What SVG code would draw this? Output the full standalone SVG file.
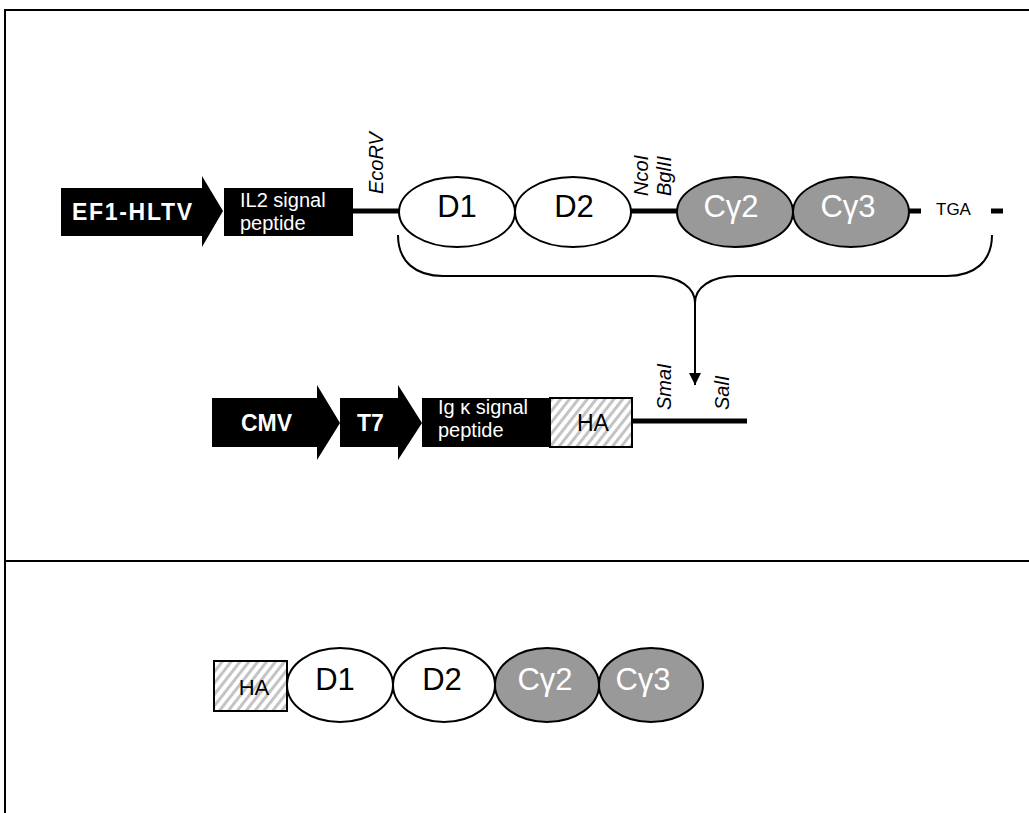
<svg xmlns="http://www.w3.org/2000/svg" width="1029" height="813" viewBox="0 0 1029 813">
  <style>
    .frame { stroke: #000; stroke-width: 2; fill: none; }
    .blk { fill: #000; }
    .dom { fill: #fff; stroke: #000; stroke-width: 2; }
    .cdom { fill: #999999; stroke: #000; stroke-width: 2; }
    .hatch { fill: url(#diag); stroke: #000; stroke-width: 2; }
    .wlab { font-family: "Liberation Sans", Arial, sans-serif; fill: #fff; }
    .bold { font-weight: bold; font-size: 23px; }
    .sig { font-size: 20px; }
    .dlab { font-family: "Liberation Sans", Arial, sans-serif; font-size: 31px; fill: #000; text-anchor: middle; }
    .clab { font-family: "Liberation Sans", Arial, sans-serif; font-size: 31px; fill: #fff; text-anchor: middle; }
    .site { font-family: "Liberation Sans", Arial, sans-serif; font-size: 20px; font-style: italic; fill: #000; }
    .dna { stroke: #000; stroke-width: 5; fill: none; }
    .brace { stroke: #000; stroke-width: 2; fill: none; }
  </style>
  <defs>
    <pattern id="diag" patternUnits="userSpaceOnUse" width="7" height="7" patternTransform="rotate(38)">
      <rect width="7" height="7" fill="#fff"/>
      <rect width="3" height="7" fill="#c4c4c4"/>
    </pattern>
    <marker id="head" markerUnits="userSpaceOnUse" markerWidth="12" markerHeight="14" refX="12" refY="6" orient="auto">
      <path d="M0,0 L12,6 L0,12 Z" fill="#000"/>
    </marker>
  </defs>

  <!-- panel frame -->
  <g id="frame">
    <line class="frame" x1="4" y1="10" x2="1029" y2="10"/>
    <line class="frame" x1="5" y1="9" x2="5" y2="813"/>
    <line class="frame" x1="4" y1="561" x2="1029" y2="561"/>
  </g>

  <!-- connectors: DNA segments, brace and insertion arrow -->
  <g id="connectors">
    <line class="dna" x1="353" y1="211" x2="399" y2="211"/>
    <line class="dna" x1="631" y1="211" x2="678" y2="211"/>
    <line class="dna" x1="909" y1="211" x2="921" y2="211"/>
    <line class="dna" x1="991" y1="211" x2="1003" y2="211"/>
    <line class="dna" x1="631" y1="421" x2="747" y2="421"/>
    <path class="brace" d="M398,235 C398,262 416,276 443,276 L653,276 C680,276 695,288 695,303"/>
    <path class="brace" d="M992,235 C992,262 974,276 947,276 L737,276 C710,276 695,288 695,303"/>
    <line class="brace" x1="695" y1="303" x2="695" y2="385" marker-end="url(#head)"/>
  </g>

  <!-- upper construct -->
  <g id="ef1-hltv">
    <polygon class="blk" points="61,188 202,188 202,176 223,211 202,247 202,236 61,236"/>
    <text class="wlab bold" x="72" y="220" textLength="120" lengthAdjust="spacing">EF1-HLTV</text>
  </g>
  <g id="il2-signal">
    <rect class="blk" x="224" y="188" width="129" height="48"/>
    <text class="wlab sig" x="240" y="207">IL2 signal</text>
    <text class="wlab sig" x="240" y="230">peptide</text>
  </g>
  <g id="ecorv">
    <text class="site" transform="translate(383,194) rotate(-90)">EcoRV</text>
  </g>
  <g id="d1-top">
    <ellipse class="dom" cx="457" cy="212" rx="58" ry="35"/>
    <text class="dlab" x="457" y="217">D1</text>
  </g>
  <g id="d2-top">
    <ellipse class="dom" cx="573" cy="212" rx="58" ry="35"/>
    <text class="dlab" x="574" y="217">D2</text>
  </g>
  <g id="nco-bgl">
    <text class="site" transform="translate(648,196) rotate(-90)">NcoI</text>
    <text class="site" transform="translate(671,196) rotate(-90)">BglII</text>
  </g>
  <g id="cg2-top">
    <ellipse class="cdom" cx="735" cy="212" rx="58" ry="35"/>
    <text class="clab" x="731" y="217">Cγ2</text>
  </g>
  <g id="cg3-top">
    <ellipse class="cdom" cx="851" cy="212" rx="58" ry="35"/>
    <text class="clab" x="848" y="217">Cγ3</text>
  </g>
  <g id="tga">
    <text x="936" y="215" font-family="Liberation Sans, Arial, sans-serif" font-size="17" fill="#000">TGA</text>
  </g>

  <!-- expression vector -->
  <g id="cmv">
    <polygon class="blk" points="212,398 317,398 317,385 340,423 317,460 317,447 212,447"/>
    <text class="wlab bold" x="241" y="431">CMV</text>
  </g>
  <g id="t7">
    <polygon class="blk" points="340,398 398,398 398,385 422,423 398,460 398,447 340,447"/>
    <text class="wlab bold" x="357" y="431">T7</text>
  </g>
  <g id="igk-signal">
    <rect class="blk" x="422" y="398" width="128" height="49"/>
    <text class="wlab sig" x="438" y="414">Ig κ signal</text>
    <text class="wlab sig" x="438" y="437">peptide</text>
  </g>
  <g id="ha-vector">
    <rect class="hatch" x="550" y="398" width="82" height="49"/>
    <text x="577" y="431" font-family="Liberation Sans, Arial, sans-serif" font-size="23" fill="#000">HA</text>
  </g>
  <g id="sma-sal">
    <text class="site" transform="translate(671,410) rotate(-90)">SmaI</text>
    <text class="site" transform="translate(729,410) rotate(-90)">SalI</text>
  </g>

  <!-- expressed fusion protein -->
  <g id="ha-protein">
    <rect class="hatch" x="214" y="661" width="73" height="50"/>
    <text x="254" y="695" font-family="Liberation Sans, Arial, sans-serif" font-size="22" fill="#000" text-anchor="middle">HA</text>
  </g>
  <g id="d1-protein">
    <ellipse class="dom" cx="340" cy="685" rx="53" ry="37"/>
    <text class="dlab" x="335" y="690">D1</text>
  </g>
  <g id="d2-protein">
    <ellipse class="dom" cx="444" cy="685" rx="51" ry="37"/>
    <text class="dlab" x="442" y="690">D2</text>
  </g>
  <g id="cg2-protein">
    <ellipse class="cdom" cx="547" cy="685" rx="52" ry="37"/>
    <text class="clab" x="545" y="690">Cγ2</text>
  </g>
  <g id="cg3-protein">
    <ellipse class="cdom" cx="651" cy="685" rx="52" ry="37"/>
    <text class="clab" x="643" y="690">Cγ3</text>
  </g>
</svg>
